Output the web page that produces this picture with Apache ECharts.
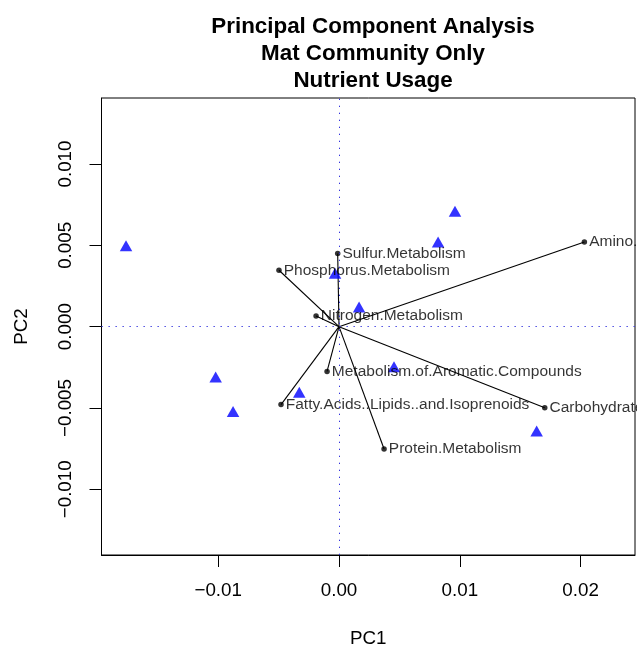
<!DOCTYPE html>
<html>
<head>
<meta charset="utf-8">
<script src="https://cdn.jsdelivr.net/npm/echarts@6/dist/echarts.min.js"></script>
<style>html,body{margin:0;padding:0;background:#fff}#c{width:637px;height:653px}</style>
</head>
<body>
<div id="c"></div>
<script>
// Sample scores (PC1, PC2)
var samplePC1 = [-0.01763, 0.0096, 0.0082, -0.00033, 0.00166, 0.00455, -0.00329, -0.01021, -0.00877, 0.01636];
var samplePC2 = [0.00497, 0.00709, 0.00521, 0.00329, 0.00121, -0.00247, -0.00404, -0.00309, -0.00521, -0.00642];
// Variable loadings
var varNames = ["Amino.Acids.and.Derivatives", "Sulfur.Metabolism", "Phosphorus.Metabolism", "Nitrogen.Metabolism",
  "Metabolism.of.Aromatic.Compounds", "Fatty.Acids..Lipids..and.Isoprenoids", "Protein.Metabolism", "Carbohydrates"];
var varPC1 = [0.02031, -0.00011, -0.00497, -0.0019, -0.00099, -0.0048, 0.00373, 0.01703];
var varPC2 = [0.00521, 0.0045, 0.00347, 0.00065, -0.00275, -0.00479, -0.00752, -0.00499];
var xTicks = [-0.01, 0, 0.01, 0.02];
var yTicks = [-0.010, -0.005, 0, 0.005, 0.010];

var FONT = "'Liberation Sans', Arial, Helvetica, sans-serif";
function fmt(v, d) { var s = Math.abs(v).toFixed(d); return (v < 0 ? "\u2212" : "") + s; }

var chart = echarts.init(document.getElementById('c'), null, {renderer: 'canvas'});
var samples = samplePC1.map(function (x, i) { return [x, samplePC2[i]]; });
var loadPts = varPC1.map(function (x, i) { return {value: [x, varPC2[i]], name: varNames[i]}; });
var segs = varPC1.map(function (x, i) { return {coords: [[0, 0], [x, varPC2[i]]]}; });

chart.setOption({
  animation: false,
  textStyle: {fontFamily: FONT},
  title: {
    text: 'Principal Component Analysis\nMat Community Only\nNutrient Usage',
    left: 368, top: 8, textAlign: 'center',
    textStyle: {fontFamily: FONT, fontWeight: 'bold', fontSize: 22.4, lineHeight: 27, color: '#000'}
  },
  grid: {left: 101.5, top: 98, right: 2, bottom: 91.3, show: true, borderColor: '#000', borderWidth: 1, backgroundColor: 'transparent'},
  xAxis: {
    type: 'value', min: -0.01966, max: 0.0245,
    name: 'PC1', nameLocation: 'middle', nameGap: 74,
    nameTextStyle: {fontFamily: FONT, fontSize: 18.8, color: '#000'},
    axisLine: {show: true, onZero: false, lineStyle: {color: '#000', width: 1}},
    axisTick: {show: true, inside: false, length: 12, lineStyle: {color: '#000', width: 1}, customValues: xTicks},
    axisLabel: {show: true, margin: 26, fontFamily: FONT, fontSize: 18.8, color: '#000', customValues: xTicks,
      formatter: function (v) { return fmt(v, 2); }},
    splitLine: {show: false}
  },
  yAxis: {
    type: 'value', min: -0.01404, max: 0.01406,
    name: 'PC2', nameLocation: 'middle', nameGap: 70,
    nameTextStyle: {fontFamily: FONT, fontSize: 18.8, color: '#000'},
    axisLine: {show: true, onZero: false, lineStyle: {color: '#000', width: 1}},
    axisTick: {show: true, inside: false, length: 12, lineStyle: {color: '#000', width: 1}, customValues: yTicks},
    axisLabel: {show: true, margin: 26, rotate: 90, fontFamily: FONT, fontSize: 18.8, color: '#000', customValues: yTicks,
      formatter: function (v) { return fmt(v, 3); }},
    splitLine: {show: false}
  },
  series: [
    {
      type: 'line', data: [], silent: true,
      markLine: {
        silent: true, symbol: 'none', label: {show: false},
        lineStyle: {color: '#3333dd', width: 1, type: [1.3, 5.7]},
        data: [{xAxis: 0}, {yAxis: 0}]
      }
    },
    {
      type: 'lines', coordinateSystem: 'cartesian2d', silent: true,
      lineStyle: {color: '#000', width: 1.1, opacity: 1},
      data: segs
    },
    {
      type: 'scatter', symbol: 'circle', symbolSize: 5.5, silent: true,
      itemStyle: {color: '#000'},
      label: {show: true, position: 'right', distance: 2, formatter: '{b}', fontFamily: FONT, fontSize: 15.5, color: '#000'},
      data: loadPts
    },
    {
      type: 'scatter', symbol: 'triangle', symbolSize: [12.5, 11], silent: true,
      itemStyle: {color: '#0000ff'},
      data: samples
    }
  ]
});
</script>
</body>
</html>
